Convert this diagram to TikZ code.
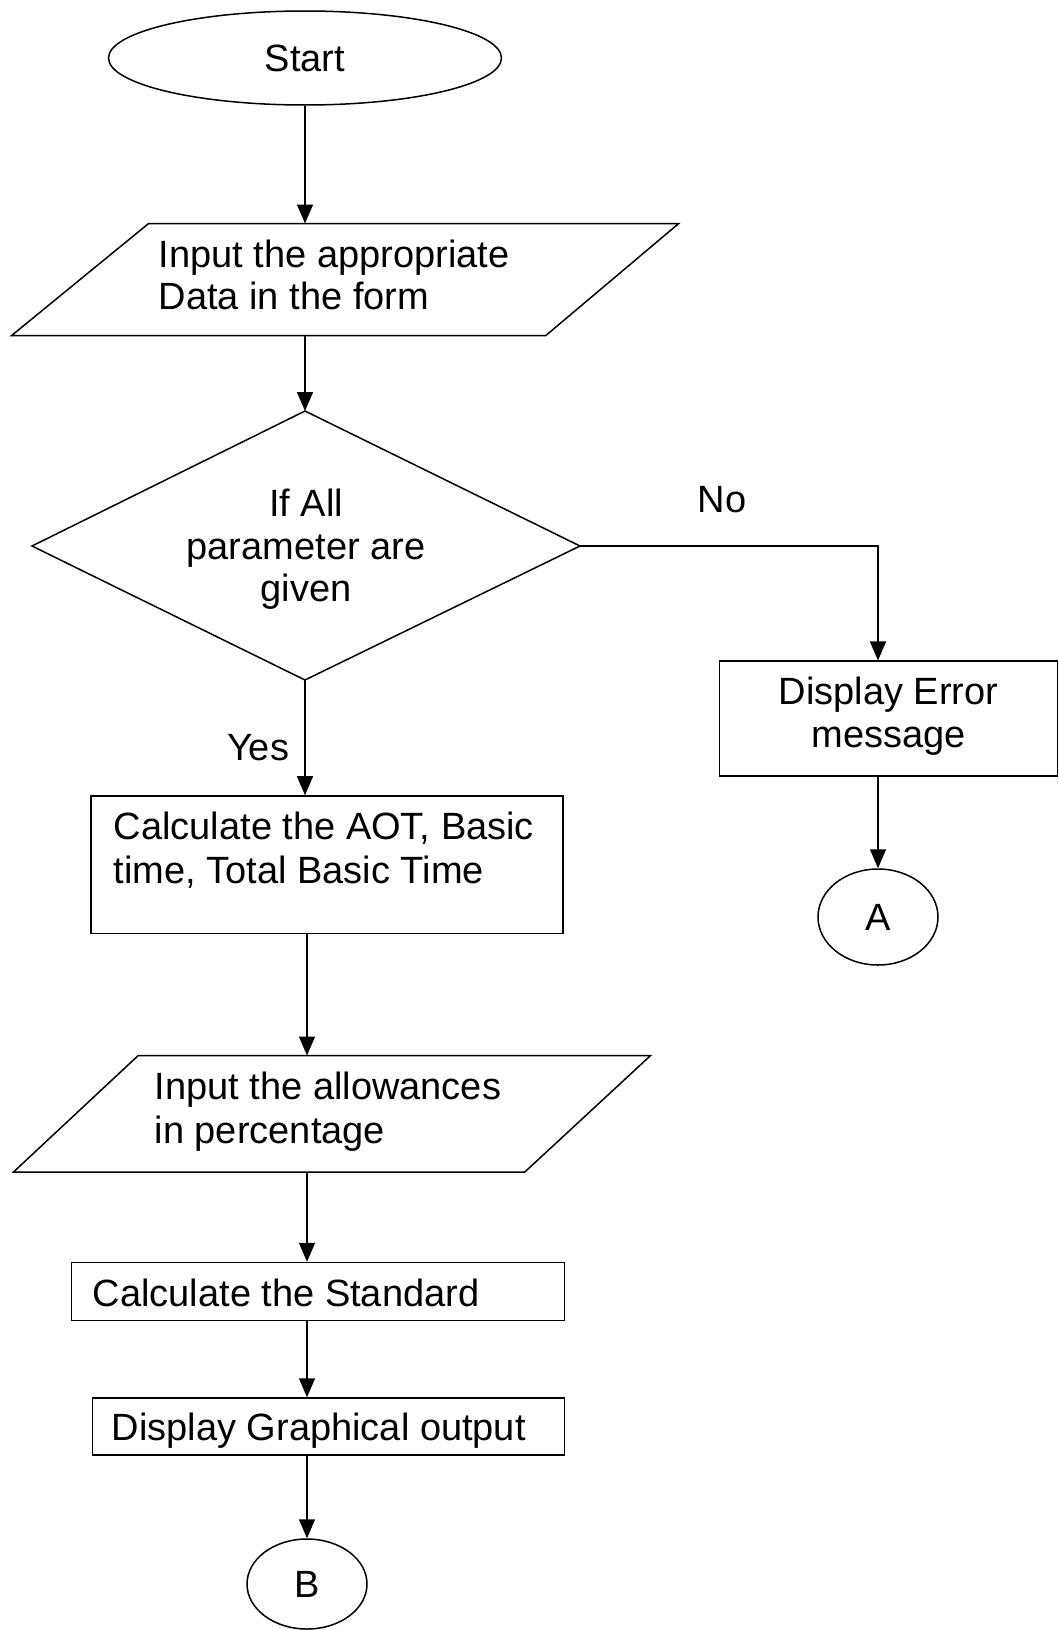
\documentclass[tikz,border=0pt]{standalone}
\usepackage{fontspec}
\setmainfont{Liberation Sans}
\usetikzlibrary{arrows.meta,shapes.geometric}
\begin{document}
\begin{tikzpicture}[x=1pt,y=-1pt,line width=1.5pt,
  arr/.style={-{Triangle[length=19pt,width=16pt]}},
  txt/.style={anchor=base west,inner sep=0pt,font=\fontsize{38}{43.5}\selectfont},
  ctxt/.style={anchor=base,inner sep=0pt,font=\fontsize{38}{43.5}\selectfont},
  boxshape/.style={draw,rectangle,inner sep=0pt},
  ovalshape/.style={draw,ellipse,inner sep=0pt}]
\useasboundingbox (0,0) rectangle (1059,1630);

% Start
\node[ovalshape,minimum width=393pt,minimum height=94pt] (start) at (305,58) {};
\node[ctxt] (starttxt) at (305,71.5) {Start};

% Input parallelogram 1
\coordinate (p1a) at (148.6,223.5);
\coordinate (p1b) at (678.7,223.5);
\coordinate (p1c) at (545.6,335.7);
\coordinate (p1d) at (11.4,335.7);
\coordinate (p1top) at (305,223.5);
\coordinate (p1bot) at (305,335.7);
\draw (p1a) -- (p1b) -- (p1c) -- (p1d) -- cycle;
\node[txt] (p1l1) at (158,267) {Input the appropriate};
\node[txt] (p1l2) at (158,309) {Data in the form};

% Decision diamond
\coordinate (dtop) at (305,411);
\coordinate (dright) at (580,546);
\coordinate (dbot) at (305,680);
\coordinate (dleft) at (32,546);
\draw (dtop) -- (dright) -- (dbot) -- (dleft) -- cycle;
\node[ctxt] (dl1) at (306,516.5) {If All};
\node[ctxt] (dl2) at (306,559) {parameter are};
\node[ctxt] (dl3) at (306,601.5) {given};

% Labels
\node[ctxt] (no) at (722,512) {No};
\node[ctxt] (yes) at (258,760) {Yes};

% Error box
\node[boxshape,minimum width=337.8pt,minimum height=115pt] (err) at (888.5,718.7) {};
\node[ctxt] (errl1) at (888.5,704) {Display Error};
\node[ctxt] (errl2) at (888.5,747) {message};

% Connector A
\node[ovalshape,minimum width=120pt,minimum height=96pt] (ca) at (878,917) {};
\node[ctxt] (catxt) at (878,930.5) {A};

% Calculate box
\node[boxshape,minimum width=472pt,minimum height=137.3pt] (calc) at (327,864.6) {};
\node[txt] (calcl1) at (113,839) {Calculate the AOT, Basic};
\node[txt] (calcl2) at (113,883) {time, Total Basic Time};

% Input parallelogram 2
\coordinate (p2a) at (138.2,1055.5);
\coordinate (p2b) at (650.6,1055.5);
\coordinate (p2c) at (524.8,1172);
\coordinate (p2d) at (13.5,1172);
\coordinate (p2top) at (307,1055.5);
\coordinate (p2bot) at (307,1172);
\draw (p2a) -- (p2b) -- (p2c) -- (p2d) -- cycle;
\node[txt] (p2l1) at (154,1099.5) {Input the allowances};
\node[txt] (p2l2) at (154,1143) {in percentage};

% Standard box
\node[boxshape,minimum width=493pt,minimum height=58pt] (std) at (318,1291.5) {};
\node[txt] (stdtxt) at (92,1306) {Calculate the Standard};

% Display box
\node[boxshape,minimum width=472pt,minimum height=57pt] (disp) at (328.5,1426.5) {};
\node[txt] (disptxt) at (111,1440) {Display Graphical output};

% Connector B
\node[ovalshape,minimum width=120pt,minimum height=90pt] (cb) at (307,1584) {};
\node[ctxt] (cbtxt) at (307,1597.5) {B};

% Connectors
\draw[arr] (start.south) -- (p1top);
\draw[arr] (p1bot) -- (dtop);
\draw[arr] (dright) -| ([xshift=-10.5pt]err.north);
\draw[arr] ([xshift=-10.5pt]err.south) -- (ca.north);
\draw[arr] (dbot) -- (dbot |- calc.north);
\draw[arr] (p2top |- calc.south) -- (p2top);
\draw[arr] (p2bot) -- (p2bot |- std.north);
\draw[arr] (p2bot |- std.south) -- (p2bot |- disp.north);
\draw[arr] (p2bot |- disp.south) -- (cb.north);
\end{tikzpicture}
\end{document}
